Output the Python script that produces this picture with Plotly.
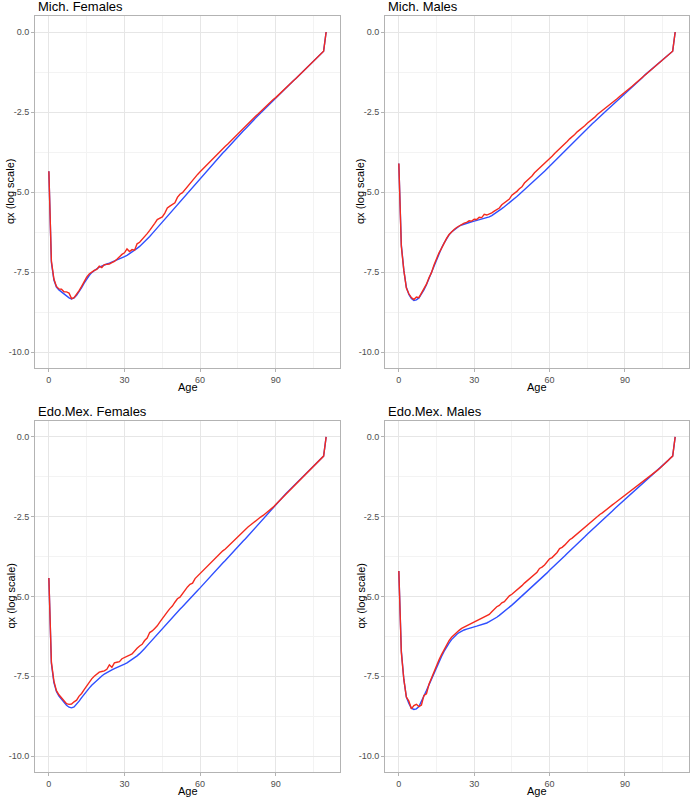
import plotly.graph_objects as go

ages = list(range(0, 111))

panel_titles = ["Mich. Females", "Mich. Males", "Edo.Mex. Females", "Edo.Mex. Males"]
x_tick_vals = [0, 30, 60, 90]
x_tick_text = ["0", "30", "60", "90"]
y_tick_vals = [-10, -7.5, -5, -2.5, 0]
y_tick_text = ["-10.0", "-7.5", "-5.0", "-2.5", "0.0"]
x_title = "Age"
y_title = "qx (log scale)"

mich_f_smooth = [-4.35,-7.20,-7.75,-7.97,-8.06,-8.13,-8.20,-8.26,-8.31,-8.34,
 -8.31,-8.23,-8.12,-7.99,-7.85,-7.72,-7.61,-7.52,-7.45,-7.40,
 -7.35,-7.31,-7.28,-7.25,-7.22,-7.19,-7.16,-7.13,-7.10,-7.06,
 -7.02,-6.98,-6.93,-6.88,-6.82,-6.76,-6.70,-6.63,-6.55,-6.47,
 -6.39,-6.30,-6.21,-6.12,-6.03,-5.94,-5.84,-5.75,-5.65,-5.55,
 -5.46,-5.37,-5.28,-5.19,-5.10,-5.01,-4.92,-4.83,-4.74,-4.65,
 -4.56,-4.47,-4.38,-4.30,-4.21,-4.12,-4.04,-3.95,-3.87,-3.78,
 -3.70,-3.61,-3.53,-3.44,-3.36,-3.27,-3.19,-3.10,-3.02,-2.93,
 -2.85,-2.77,-2.69,-2.61,-2.53,-2.45,-2.37,-2.29,-2.21,-2.13,
 -2.05,-1.97,-1.90,-1.82,-1.75,-1.67,-1.60,-1.52,-1.45,-1.37,
 -1.30,-1.22,-1.14,-1.06,-0.99,-0.91,-0.83,-0.75,-0.68,-0.60,
 0.00]
mich_f_raw = [-4.35,-7.15,-7.72,-7.95,-8.03,-8.04,-8.12,-8.12,-8.16,-8.33,
 -8.30,-8.20,-8.08,-7.95,-7.80,-7.66,-7.56,-7.49,-7.45,-7.42,
 -7.32,-7.36,-7.27,-7.26,-7.25,-7.21,-7.17,-7.10,-7.02,-6.95,
 -6.90,-6.78,-6.86,-6.80,-6.82,-6.62,-6.57,-6.49,-6.40,-6.30,
 -6.20,-6.10,-5.98,-5.86,-5.82,-5.78,-5.66,-5.50,-5.44,-5.38,
 -5.34,-5.17,-5.07,-5.02,-4.92,-4.82,-4.74,-4.64,-4.54,-4.45,
 -4.37,-4.29,-4.19,-4.10,-4.03,-3.97,-3.87,-3.80,-3.73,-3.64,
 -3.57,-3.50,-3.42,-3.32,-3.27,-3.18,-3.10,-3.02,-2.94,-2.86,
 -2.79,-2.71,-2.63,-2.56,-2.48,-2.40,-2.33,-2.26,-2.18,-2.11,
 -2.05,-1.97,-1.90,-1.82,-1.75,-1.67,-1.60,-1.52,-1.45,-1.37,
 -1.30,-1.22,-1.14,-1.06,-0.99,-0.91,-0.83,-0.75,-0.68,-0.60,
 0.00]

mich_m_smooth = [-4.11,-6.65,-7.45,-7.98,-8.20,-8.33,-8.39,-8.37,-8.31,-8.20,
 -8.06,-7.90,-7.71,-7.51,-7.30,-7.10,-6.92,-6.75,-6.60,-6.46,
 -6.34,-6.25,-6.18,-6.12,-6.07,-6.03,-6.00,-5.97,-5.95,-5.93,
 -5.91,-5.89,-5.87,-5.85,-5.83,-5.81,-5.78,-5.74,-5.69,-5.64,
 -5.58,-5.52,-5.46,-5.40,-5.34,-5.28,-5.21,-5.14,-5.07,-5.00,
 -4.93,-4.86,-4.79,-4.71,-4.64,-4.57,-4.50,-4.42,-4.35,-4.27,
 -4.20,-4.12,-4.04,-3.96,-3.88,-3.80,-3.72,-3.64,-3.56,-3.48,
 -3.40,-3.32,-3.25,-3.17,-3.10,-3.02,-2.95,-2.87,-2.80,-2.72,
 -2.65,-2.58,-2.50,-2.43,-2.36,-2.29,-2.21,-2.14,-2.07,-1.99,
 -1.92,-1.85,-1.78,-1.70,-1.63,-1.56,-1.49,-1.42,-1.34,-1.27,
 -1.20,-1.13,-1.07,-1.00,-0.93,-0.86,-0.80,-0.73,-0.66,-0.60,
 0.00]
mich_m_raw = [-4.11,-6.70,-7.45,-8.00,-8.18,-8.30,-8.36,-8.28,-8.30,-8.16,
 -7.98,-7.88,-7.68,-7.52,-7.28,-7.06,-6.90,-6.76,-6.59,-6.45,
 -6.33,-6.24,-6.17,-6.11,-6.06,-6.02,-5.97,-5.95,-5.90,-5.91,
 -5.85,-5.86,-5.79,-5.80,-5.70,-5.72,-5.69,-5.65,-5.60,-5.55,
 -5.50,-5.40,-5.33,-5.26,-5.22,-5.10,-5.05,-4.98,-4.90,-4.84,
 -4.72,-4.65,-4.57,-4.50,-4.40,-4.33,-4.25,-4.19,-4.10,-4.03,
 -3.95,-3.88,-3.80,-3.73,-3.64,-3.58,-3.50,-3.42,-3.34,-3.28,
 -3.20,-3.12,-3.06,-2.98,-2.93,-2.85,-2.79,-2.72,-2.66,-2.58,
 -2.52,-2.45,-2.40,-2.33,-2.27,-2.20,-2.14,-2.08,-2.01,-1.95,
 -1.88,-1.82,-1.76,-1.69,-1.62,-1.55,-1.49,-1.42,-1.34,-1.27,
 -1.20,-1.13,-1.07,-1.00,-0.93,-0.86,-0.80,-0.73,-0.66,-0.60,
 0.00]

edo_f_smooth = [-4.42,-7.10,-7.70,-7.98,-8.12,-8.22,-8.32,-8.41,-8.47,-8.49,
 -8.46,-8.38,-8.28,-8.17,-8.06,-7.96,-7.87,-7.78,-7.70,-7.62,
 -7.55,-7.49,-7.43,-7.38,-7.34,-7.30,-7.26,-7.23,-7.20,-7.16,
 -7.12,-7.08,-7.03,-6.98,-6.92,-6.86,-6.79,-6.72,-6.63,-6.54,
 -6.45,-6.37,-6.29,-6.20,-6.11,-6.02,-5.93,-5.84,-5.75,-5.66,
 -5.58,-5.49,-5.40,-5.32,-5.23,-5.15,-5.06,-4.98,-4.90,-4.81,
 -4.73,-4.64,-4.56,-4.47,-4.38,-4.30,-4.21,-4.12,-4.04,-3.95,
 -3.87,-3.78,-3.70,-3.61,-3.53,-3.44,-3.36,-3.27,-3.19,-3.10,
 -3.02,-2.93,-2.84,-2.75,-2.66,-2.57,-2.48,-2.39,-2.30,-2.21,
 -2.13,-2.04,-1.95,-1.86,-1.78,-1.70,-1.62,-1.54,-1.46,-1.38,
 -1.30,-1.22,-1.14,-1.07,-0.99,-0.91,-0.83,-0.75,-0.68,-0.60,
 0.00]
edo_f_raw = [-4.42,-7.05,-7.65,-7.95,-8.08,-8.17,-8.26,-8.36,-8.38,-8.37,
 -8.30,-8.25,-8.12,-8.04,-7.92,-7.80,-7.71,-7.58,-7.50,-7.42,
 -7.37,-7.35,-7.33,-7.28,-7.14,-7.22,-7.08,-7.06,-7.04,-6.95,
 -6.92,-6.88,-6.84,-6.80,-6.69,-6.62,-6.55,-6.50,-6.38,-6.30,
 -6.13,-6.08,-6.00,-5.92,-5.80,-5.68,-5.60,-5.48,-5.38,-5.30,
 -5.18,-5.07,-5.02,-4.90,-4.80,-4.70,-4.62,-4.58,-4.44,-4.36,
 -4.29,-4.20,-4.12,-4.03,-3.95,-3.90,-3.81,-3.74,-3.66,-3.57,
 -3.51,-3.43,-3.35,-3.28,-3.20,-3.12,-3.04,-2.97,-2.90,-2.82,
 -2.76,-2.69,-2.62,-2.56,-2.51,-2.46,-2.40,-2.34,-2.28,-2.20,
 -2.12,-2.04,-1.95,-1.86,-1.78,-1.70,-1.62,-1.54,-1.46,-1.38,
 -1.30,-1.22,-1.14,-1.07,-0.99,-0.91,-0.83,-0.75,-0.68,-0.60,
 0.00]

edo_m_smooth = [-4.20,-6.70,-7.60,-8.15,-8.35,-8.50,-8.54,-8.52,-8.45,-8.30,
 -8.13,-7.95,-7.77,-7.58,-7.39,-7.20,-7.04,-6.88,-6.72,-6.58,
 -6.46,-6.35,-6.26,-6.19,-6.13,-6.08,-6.05,-6.02,-5.99,-5.97,
 -5.95,-5.93,-5.91,-5.89,-5.86,-5.83,-5.79,-5.75,-5.70,-5.65,
 -5.59,-5.53,-5.47,-5.40,-5.34,-5.27,-5.20,-5.13,-5.06,-4.99,
 -4.92,-4.85,-4.78,-4.70,-4.63,-4.56,-4.48,-4.41,-4.33,-4.26,
 -4.18,-4.11,-4.03,-3.96,-3.88,-3.80,-3.73,-3.65,-3.58,-3.50,
 -3.43,-3.35,-3.28,-3.20,-3.13,-3.05,-2.98,-2.90,-2.83,-2.76,
 -2.68,-2.61,-2.54,-2.46,-2.39,-2.32,-2.24,-2.17,-2.10,-2.03,
 -1.96,-1.88,-1.81,-1.74,-1.67,-1.60,-1.53,-1.46,-1.39,-1.32,
 -1.25,-1.18,-1.11,-1.04,-0.97,-0.90,-0.83,-0.75,-0.67,-0.60,
 0.00]
edo_m_raw = [-4.20,-6.75,-7.60,-8.15,-8.28,-8.52,-8.42,-8.38,-8.45,-8.40,
 -8.10,-8.05,-7.75,-7.55,-7.35,-7.15,-6.98,-6.82,-6.66,-6.51,
 -6.38,-6.28,-6.20,-6.12,-6.06,-6.00,-5.96,-5.94,-5.90,-5.86,
 -5.80,-5.76,-5.74,-5.68,-5.64,-5.62,-5.56,-5.48,-5.40,-5.32,
 -5.28,-5.20,-5.16,-5.06,-4.98,-4.93,-4.87,-4.80,-4.73,-4.66,
 -4.58,-4.51,-4.45,-4.38,-4.31,-4.24,-4.12,-4.08,-4.01,-3.92,
 -3.82,-3.78,-3.70,-3.62,-3.50,-3.46,-3.39,-3.30,-3.22,-3.17,
 -3.10,-3.04,-2.97,-2.91,-2.84,-2.77,-2.70,-2.63,-2.57,-2.50,
 -2.43,-2.38,-2.31,-2.25,-2.19,-2.13,-2.07,-2.01,-1.96,-1.90,
 -1.84,-1.78,-1.72,-1.66,-1.60,-1.54,-1.48,-1.42,-1.36,-1.30,
 -1.24,-1.18,-1.11,-1.04,-0.97,-0.90,-0.83,-0.75,-0.67,-0.60,
 0.00]

smooth_series = [mich_f_smooth, mich_m_smooth, edo_f_smooth, edo_m_smooth]
raw_series = [mich_f_raw, mich_m_raw, edo_f_raw, edo_m_raw]

W, H = 690, 798
# plot-area pixel boxes (left, right, top, bottom)
boxes = [(35, 340, 16, 368), (385, 689, 16, 368),
         (35, 340, 421, 772), (385, 689, 421, 772)]

BLUE = "#2F4FFF"
RED = "#F42A1E"
FONT = "Liberation Sans, Arial, Helvetica, sans-serif"

fig = go.Figure()
layout = dict(
    width=W, height=H,
    margin=dict(l=0, r=0, t=0, b=0),
    paper_bgcolor="white", plot_bgcolor="white",
    showlegend=False,
    font=dict(family=FONT, color="#000000"),
)
annotations = []

for i in range(4):
    k = "" if i == 0 else str(i + 1)
    l, r, t, b = boxes[i]
    xd = [l / W, r / W]
    yd = [1 - b / H, 1 - t / H]
    common = dict(
        showline=True, linecolor="#B3B3B3", linewidth=1, mirror=True,
        showgrid=True, gridcolor="#E6E6E6", gridwidth=1,
        zeroline=False, ticks="outside", ticklen=3, tickcolor="#B3B3B3", tickwidth=1,
        tickfont=dict(family=FONT, size=9, color="#4D4D4D"),
    )
    layout["xaxis" + k] = dict(
        common, domain=xd, range=[-5.5, 115.5], anchor="y" + k,
        tickmode="array", tickvals=x_tick_vals, ticktext=x_tick_text,
        minor=dict(tickvals=[15, 45, 75, 105], showgrid=True, gridcolor="#F3F3F3", ticks=""),
    )
    layout["yaxis" + k] = dict(
        common, domain=yd, range=[-10.5, 0.5], anchor="x" + k,
        tickmode="array", tickvals=y_tick_vals, ticktext=y_tick_text,
        minor=dict(tickvals=[-8.75, -6.25, -3.75, -1.25], showgrid=True, gridcolor="#F3F3F3", ticks=""),
    )
    fig.add_trace(go.Scatter(x=ages, y=smooth_series[i], mode="lines",
                             line=dict(color=BLUE, width=1.4),
                             xaxis="x" + k, yaxis="y" + k, hoverinfo="skip"))
    fig.add_trace(go.Scatter(x=ages, y=raw_series[i], mode="lines",
                             line=dict(color=RED, width=1.4),
                             xaxis="x" + k, yaxis="y" + k, hoverinfo="skip"))
    # panel title
    annotations.append(dict(text=panel_titles[i], xref="paper", yref="paper",
                            x=(l + 1) / W, y=1 - (t - 10) / H, xanchor="left", yanchor="middle",
                            showarrow=False, font=dict(family=FONT, size=13, color="#000000")))
    # x axis title
    annotations.append(dict(text=x_title, xref="paper", yref="paper",
                            x=((l + r) / 2) / W, y=1 - (b + 19) / H, xanchor="center", yanchor="middle",
                            showarrow=False, font=dict(family=FONT, size=11, color="#000000")))
    # y axis title
    annotations.append(dict(text=y_title, xref="paper", yref="paper",
                            x=(l - 25) / W, y=1 - ((t + b) / 2) / H, xanchor="center", yanchor="middle",
                            textangle=-90, showarrow=False,
                            font=dict(family=FONT, size=11, color="#000000")))

layout["annotations"] = annotations
fig.update_layout(**layout)
fig.write_html(
    "out.html",
    config={"displayModeBar": False},
    post_script="document.body.style.margin='0';document.body.style.overflow='hidden';",
)
